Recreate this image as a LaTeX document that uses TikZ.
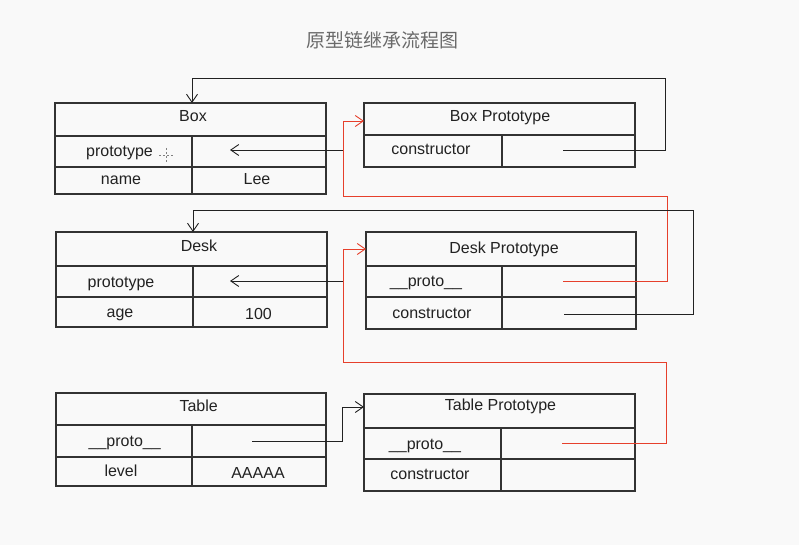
\documentclass[tikz,border=0pt]{standalone}
\usepackage{fontspec}
\setmainfont{Liberation Sans}
\newfontfamily\cjk{Noto Sans CJK SC}
\usetikzlibrary{arrows.meta}
\definecolor{bg}{HTML}{F9F9F9}
\definecolor{ink}{HTML}{222222}
\definecolor{edge}{HTML}{333333}
\definecolor{redline}{HTML}{E6402C}
\definecolor{titlegray}{HTML}{6A6A6A}
\newcommand\mkcell[5]{\node[cellbox,minimum width={#4pt-#2pt},minimum height={#5pt-#3pt}] (#1) at ({(#2+#4)/2},{(#3+#5)/2}) {};}
\begin{document}
\begin{tikzpicture}[x=1pt,y=-1pt,
  cellbox/.style={draw=edge,line width=1.1pt,inner sep=0pt,outer sep=0pt},
  lbl/.style={anchor=base,inner sep=0pt,text=ink,font=\fontsize{16}{19}\selectfont},
  conn/.style={draw=ink,line width=0.9pt},
  redconn/.style={draw=redline,line width=0.9pt},
  tip/.style={-{Straight Barb[length=8pt,width=11pt]}}
]
\fill[bg] (0,0) rectangle (799,545);
\useasboundingbox (0,0) rectangle (799,545);

% title
\node[font=\cjk\fontsize{19}{22}\selectfont,text=titlegray,inner sep=0pt] (title) at (382.5,40) {原型链继承流程图};

% Box
\mkcell{boxH}{55}{103}{326}{136}
\mkcell{boxKa}{55}{136}{192}{167}
\mkcell{boxVa}{192}{136}{326}{167}
\mkcell{boxKb}{55}{167}{192}{194}
\mkcell{boxVb}{192}{167}{326}{194}
\draw[edge,line width=1.6pt] (boxKa.north east) -- (boxKb.south east);
\node[lbl] (tBox) at (193,122) {Box};
\node[lbl] (tBoxK1) at (119.5,157) {prototype};
\node[lbl] (tBoxK2) at (121,185) {name};
\node[lbl] (tBoxV2) at (257,185) {Lee};
% cursor mark
\coordinate (cur) at (166,155);
\draw[gray,line width=0.8pt,dash pattern=on 2pt off 2pt] ([xshift=-7pt]cur) -- ([xshift=7pt]cur);
\draw[gray,line width=0.8pt,dash pattern=on 2pt off 2pt] ([yshift=7pt]cur) -- ([yshift=-7pt]cur);

% Box Prototype
\mkcell{bpH}{364}{103}{635}{135}
\mkcell{bpKa}{364}{135}{502}{167}
\mkcell{bpVa}{502}{135}{635}{167}
\node[lbl] (tBp) at (500,122) {Box Prototype};
\node[lbl] (tBpK1) at (431,155) {constructor};

% Desk
\mkcell{dkH}{56}{232}{327}{266}
\mkcell{dkKa}{56}{266}{193}{297}
\mkcell{dkVa}{193}{266}{327}{297}
\mkcell{dkKb}{56}{297}{193}{327}
\mkcell{dkVb}{193}{297}{327}{327}
\node[lbl] (tDk) at (199,251) {Desk};
\node[lbl] (tDkK1) at (121,287) {prototype};
\node[lbl] (tDkK2) at (120,317) {age};
\node[lbl] (tDkV2) at (258.5,319) {100};

% Desk Prototype
\mkcell{dpH}{366}{232}{636}{266}
\mkcell{dpKa}{366}{266}{502}{297}
\mkcell{dpVa}{502}{266}{636}{297}
\mkcell{dpKb}{366}{297}{502}{329}
\mkcell{dpVb}{502}{297}{636}{329}
\node[lbl] (tDp) at (504,253) {Desk Prototype};
\node[lbl] (tDpK1) at (426,286) {\_\_proto\_\_};
\node[lbl] (tDpK2) at (432,318) {constructor};

% Table
\mkcell{tbH}{56}{393}{326}{425}
\mkcell{tbKa}{56}{425}{192}{457}
\mkcell{tbVa}{192}{425}{326}{457}
\mkcell{tbKb}{56}{457}{192}{486}
\mkcell{tbVb}{192}{457}{326}{486}
\draw[edge,line width=1.6pt] (tbKa.north east) -- (tbKb.south east);
\draw[edge,line width=1.6pt] (tbKb.north west) -- (tbVb.north east);
\node[lbl] (tTb) at (198.7,411) {Table};
\node[lbl] (tTbK1) at (124.7,446) {\_\_proto\_\_};
\node[lbl] (tTbK2) at (121,476.5) {level};
\node[lbl] (tTbV2) at (258,478) {AAAAA};

% Table Prototype
\mkcell{tpH}{364}{394}{635}{428}
\mkcell{tpKa}{364}{428}{501}{459}
\mkcell{tpVa}{501}{428}{635}{459}
\mkcell{tpKb}{364}{459}{501}{491}
\mkcell{tpVb}{501}{459}{635}{491}
\node[lbl] (tTp) at (500.5,410) {Table Prototype};
\node[lbl] (tTpK1) at (425,449) {\_\_proto\_\_};
\node[lbl] (tTpK2) at (430,479) {constructor};

% connector start / end points
\coordinate (bpCons) at (563,150);
\coordinate (dpProto) at (563,281);
\coordinate (dpCons) at (564,314);
\coordinate (tpProto) at (562,443);
\coordinate (tbProto) at (252,441);
\coordinate (jBox) at (343,150);
\coordinate (aBox) at (230,150);
\coordinate (jDesk) at (343,281);
\coordinate (aDesk) at (230,281);

% Box Prototype.constructor -> Box
\draw[conn,tip] (bpCons) -- (665,150) -- (665,78) -- (192,78) -- (boxH.north -| boxKa.east);
% Box.prototype <- Box Prototype
\draw[conn,tip] (jBox) -- (aBox);
% Desk Prototype.__proto__ -> Box Prototype
\draw[redconn,tip] (dpProto) -- (667,281) -- (667,196) -- (343,196) -- (343,121) -- ([yshift=-2pt]bpH.west);

% Desk Prototype.constructor -> Desk
\draw[conn,tip] (dpCons) -- (693,314) -- (693,210) -- (193,210) -- (dkH.north -| dkKa.east);
% Desk.prototype <- Desk Prototype
\draw[conn,tip] (jDesk) -- (aDesk);
% Table Prototype.__proto__ -> Desk Prototype
\draw[redconn,tip] (tpProto) -- (666,443) -- (666,362) -- (343,362) -- (343,249) -- (dpH.west);

% Table.__proto__ -> Table Prototype
\draw[conn,tip] (tbProto) -- (342,441) -- (342,407) -- ([yshift=4pt]tpH.west);
\end{tikzpicture}
\end{document}
